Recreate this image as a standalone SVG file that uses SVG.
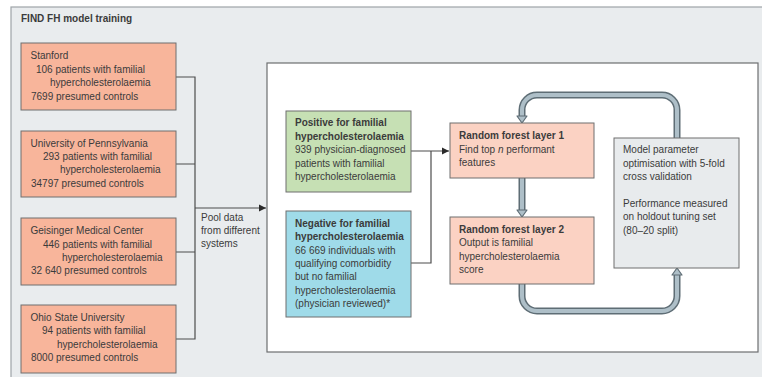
<svg xmlns="http://www.w3.org/2000/svg" xmlns:xlink="http://www.w3.org/1999/xlink" width="762" height="377" viewBox="0 0 762 377">
<style>
text{font-family:"Liberation Sans",Arial,sans-serif;font-size:10px;fill:#3b3b3b}
.b{font-weight:bold}
.site{fill:#f8b59b;stroke:#6f6f6f;stroke-width:1}
.rf{fill:#fbd2c3;stroke:#6f6f6f;stroke-width:1}
.pos{fill:#c6e0b4;stroke:#6f6f6f;stroke-width:1}
.neg{fill:#9fdbe9;stroke:#6f6f6f;stroke-width:1}
.opt{fill:#e8ebed;stroke:#6f6f6f;stroke-width:1}
.ln{fill:none;stroke:#4d4d4d;stroke-width:1.2}
.thk-o{fill:none;stroke:#5e6d75;stroke-width:7}
.thk-i{fill:none;stroke:#aebfc8;stroke-width:4}
.thd{fill:#aebfc8;stroke:#5e6d75;stroke-width:1.2;stroke-linejoin:round}
</style>
<defs>
<marker id="ah" markerWidth="8" markerHeight="8" refX="7" refY="4" orient="auto" markerUnits="userSpaceOnUse">
<path d="M0,0.5 L7,4 L0,7.5 Z" fill="#2b2b2b"/>
</marker>
<path id="thead" d="M-5,-7 L5,-7 L0,0 Z"/>
</defs>
<rect x="0" y="0" width="762" height="377" fill="#ffffff"/>
<rect id="panel" x="11" y="7" width="760" height="380" fill="#e9ecee" stroke="#9ea4a8" stroke-width="1.2"/>
<text class="b" x="21" y="22">FIND FH model training</text>
<rect id="inner" x="267" y="63" width="491" height="289" fill="#ffffff" stroke="#6d6e70" stroke-width="1.2"/>

<g id="connectors">
<path class="ln" d="M176,77 H195 V339 H176 M176,164 H195 M176,252 H195"/>
<path class="ln" d="M195,208 H266" marker-end="url(#ah)"/>
<path class="ln" d="M411,151 H449" marker-end="url(#ah)"/>
<path class="ln" d="M431,151 V263 H411"/>
<path class="thk-o" d="M677,138 V110 A15,15 0 0 0 662,95 H537 A15,15 0 0 0 522,110 V117"/>
<path class="thk-i" d="M677,139 V110 A15,15 0 0 0 662,95 H537 A15,15 0 0 0 522,110 V118"/>
<path class="thk-o" d="M522,178 V211"/>
<path class="thk-i" d="M522,177 V212"/>
<path class="thk-o" d="M522,284 V296 A15,15 0 0 0 537,311 H662 A15,15 0 0 0 677,296 V275"/>
<path class="thk-i" d="M522,283 V296 A15,15 0 0 0 537,311 H662 A15,15 0 0 0 677,296 V274"/>
<use xlink:href="#thead" class="thd" transform="translate(522,123)"/>
<use xlink:href="#thead" class="thd" transform="translate(522,217)"/>
<use xlink:href="#thead" class="thd" transform="translate(677,268) rotate(180)"/>
<text x="201" y="221">Pool data</text>
<text x="201" y="234">from different</text>
<text x="201" y="247">systems</text>
</g>

<g id="stanford">
<rect class="site" x="21" y="43" width="155" height="67"/>
<text x="30.5" y="59">Stanford</text>
<text x="36" y="73">106 patients with familial</text>
<text x="50" y="86">hypercholesterolaemia</text>
<text x="31" y="99.5">7699 presumed controls</text>
</g>
<g id="penn">
<rect class="site" x="21" y="131" width="155" height="66"/>
<text x="30.5" y="147">University of Pennsylvania</text>
<text x="43" y="160">293 patients with familial</text>
<text x="60" y="173">hypercholesterolaemia</text>
<text x="31" y="187">34797 presumed controls</text>
</g>
<g id="geisinger">
<rect class="site" x="21" y="218" width="155" height="67"/>
<text x="30.5" y="234">Geisinger Medical Center</text>
<text x="43" y="247.5">446 patients with familial</text>
<text x="62" y="261">hypercholesterolaemia</text>
<text x="31" y="274">32 640 presumed controls</text>
</g>
<g id="ohio">
<rect class="site" x="21" y="305" width="155" height="68"/>
<text x="30.5" y="321">Ohio State University</text>
<text x="42" y="334">94 patients with familial</text>
<text x="57" y="347.5">hypercholesterolaemia</text>
<text x="31" y="361">8000 presumed controls</text>
</g>

<g id="positive">
<rect class="pos" x="286" y="111" width="125" height="81"/>
<text class="b" x="295" y="126">Positive for familial</text>
<text class="b" x="295" y="140">hypercholesterolaemia</text>
<text x="295" y="153">939 physician-diagnosed</text>
<text x="295" y="167">patients with familial</text>
<text x="295" y="180">hypercholesterolaemia</text>
</g>
<g id="negative">
<rect class="neg" x="286" y="211" width="125" height="106"/>
<text class="b" x="295" y="227">Negative for familial</text>
<text class="b" x="295" y="240">hypercholesterolaemia</text>
<text x="295" y="254">66 669 individuals with</text>
<text x="295" y="267">qualifying comorbidity</text>
<text x="295" y="280">but no familial</text>
<text x="295" y="294">hypercholesterolaemia</text>
<text x="295" y="307">(physician reviewed)*</text>
</g>

<g id="rf1">
<rect class="rf" x="450" y="123" width="144" height="55"/>
<text class="b" x="459" y="139">Random forest layer 1</text>
<text x="459" y="153">Find top <tspan font-style="italic">n</tspan> performant</text>
<text x="459" y="166">features</text>
</g>
<g id="rf2">
<rect class="rf" x="450" y="217" width="144" height="67"/>
<text class="b" x="459" y="233">Random forest layer 2</text>
<text x="459" y="246">Output is familial</text>
<text x="459" y="260">hypercholesterolaemia</text>
<text x="459" y="273">score</text>
</g>
<g id="optimisation">
<rect class="opt" x="614" y="138" width="125" height="130"/>
<text x="623" y="153">Model parameter</text>
<text x="623" y="167">optimisation with 5-fold</text>
<text x="623" y="180">cross validation</text>
<text x="623" y="207">Performance measured</text>
<text x="623" y="220">on holdout tuning set</text>
<text x="623" y="234">(80–20 split)</text>
</g>
</svg>
